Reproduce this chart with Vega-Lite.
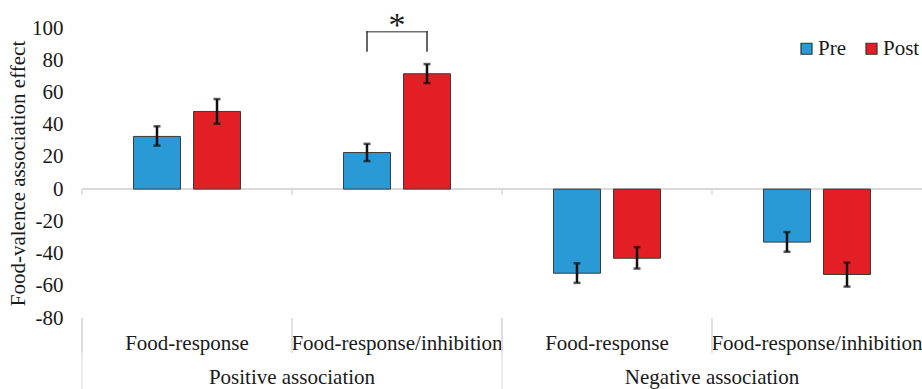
{
  "$schema": "https://vega.github.io/schema/vega-lite/v6.json",
  "width": 840,
  "height": 290,
  "autosize": {"type": "none"},
  "padding": {"left": 82, "top": 28, "right": 0, "bottom": 71},
  "background": "white",
  "config": {
    "view": {"stroke": null},
    "font": "Liberation Serif",
    "text": {"font": "Liberation Serif"}
  },
  "datasets": {
    "bars": [
      {"grp": "Positive association", "cat": "Positive|Food-response", "time": "Pre", "value": 32.7, "lo": 27.0, "hi": 39.0},
      {"grp": "Positive association", "cat": "Positive|Food-response", "time": "Post", "value": 48.2, "lo": 40.6, "hi": 55.9},
      {"grp": "Positive association", "cat": "Positive|Food-response/inhibition", "time": "Pre", "value": 22.7, "lo": 17.4, "hi": 28.1},
      {"grp": "Positive association", "cat": "Positive|Food-response/inhibition", "time": "Post", "value": 71.6, "lo": 65.8, "hi": 77.6},
      {"grp": "Negative association", "cat": "Negative|Food-response", "time": "Pre", "value": -52.2, "lo": -58.2, "hi": -46.0},
      {"grp": "Negative association", "cat": "Negative|Food-response", "time": "Post", "value": -42.9, "lo": -49.3, "hi": -36.0},
      {"grp": "Negative association", "cat": "Negative|Food-response/inhibition", "time": "Pre", "value": -32.9, "lo": -38.9, "hi": -26.7},
      {"grp": "Negative association", "cat": "Negative|Food-response/inhibition", "time": "Post", "value": -53.0, "lo": -60.5, "hi": -45.6}
    ],
    "groups": [
      {"grp": "Positive association", "first": "Positive|Food-response", "mid": "Positive|Food-response/inhibition"},
      {"grp": "Negative association", "first": "Negative|Food-response", "mid": "Negative|Food-response/inhibition"}
    ]
  },
  "data": {"name": "bars"},
  "encoding": {
    "x": {
      "field": "cat",
      "type": "nominal",
      "scale": {
        "domain": ["Positive|Food-response", "Positive|Food-response/inhibition", "Negative|Food-response", "Negative|Food-response/inhibition"],
        "paddingInner": 0,
        "paddingOuter": 0
      },
      "axis": {
        "title": null,
        "labelExpr": "split(datum.label, '|')[1]",
        "labelAngle": 0,
        "labelLimit": 0,
        "domain": false,
        "ticks": false,
        "labelPadding": 14,
        "labelFont": "Liberation Serif",
        "labelFontSize": 21,
        "labelColor": "#1a1a1a",
        "labelBaseline": "top"
      }
    },
    "y": {
      "type": "quantitative",
      "scale": {"domain": [-80, 100], "nice": false, "zero": false},
      "axis": {
        "title": "Food-valence association effect",
        "values": [-80, -60, -40, -20, 0, 20, 40, 60, 80, 100],
        "tickCount": 10,
        "labelExpr": "(datum.value < 0 ? '-' : '') + abs(datum.value)",
        "labelOverlap": false,
        "labelBound": false,
        "grid": false, "domain": false, "ticks": false,
        "labelPadding": 19,
        "labelFont": "Liberation Serif", "labelFontSize": 21, "labelColor": "#1a1a1a",
        "titleFont": "Liberation Serif", "titleFontSize": 21, "titleFontWeight": "normal", "titleColor": "#1a1a1a",
        "titlePadding": 3
      }
    }
  },
  "layer": [
    {
      "mark": {"type": "rule", "color": "#d9d9d9", "strokeWidth": 1},
      "encoding": {"x": null, "y": {"datum": 0, "type": "quantitative"}}
    },
    {
      "mark": {"type": "rule", "color": "#d9d9d9", "strokeWidth": 1},
      "encoding": {"x": {"field": "cat", "type": "nominal", "bandPosition": 0}, "y": {"datum": 0}, "y2": {"datum": -3.5}}
    },
    {
      "mark": {"type": "rule", "color": "#d9d9d9", "strokeWidth": 1},
      "encoding": {"x": {"field": "cat", "type": "nominal", "bandPosition": 0}, "y": {"datum": -80}, "y2": {"datum": -101.7}}
    },
    {
      "data": {"name": "groups"},
      "mark": {"type": "rule", "color": "#d9d9d9", "strokeWidth": 1},
      "encoding": {"x": {"field": "first", "type": "nominal", "bandPosition": 0}, "y": {"datum": -80}, "y2": {"datum": -125}}
    },
    {
      "data": {"name": "groups"},
      "mark": {"type": "text", "fontSize": 21, "color": "#1a1a1a", "baseline": "middle", "dy": 0},
      "encoding": {"x": {"field": "mid", "type": "nominal", "bandPosition": 0}, "y": {"datum": -117.5}, "text": {"field": "grp"}}
    },
    {
      "mark": {"type": "bar", "stroke": "#3a3a3a", "strokeWidth": 1},
      "encoding": {
        "xOffset": {"field": "time", "type": "nominal", "sort": ["Pre", "Post"], "scale": {"paddingInner": 0.2167, "paddingOuter": 0.858}},
        "y": {"field": "value", "type": "quantitative"},
        "y2": {"datum": 0},
        "color": {
          "field": "time", "type": "nominal", "sort": ["Pre", "Post"],
          "scale": {"domain": ["Pre", "Post"], "range": ["#2a9ad7", "#e31f25"]},
          "legend": {
            "title": null, "orient": "none", "direction": "horizontal",
            "legendX": 714, "legendY": 10, "padding": 0,
            "symbolType": "square", "symbolSize": 121, "symbolStrokeColor": "#333333", "symbolStrokeWidth": 1.2,
            "labelFont": "Liberation Serif", "labelFontSize": 21, "labelColor": "#1a1a1a",
            "labelOffset": 1, "columnPadding": 15
          }
        }
      }
    },
    {
      "mark": {"type": "rule", "color": "#111111", "strokeWidth": 2.5},
      "encoding": {
        "xOffset": {"field": "time", "type": "nominal", "sort": ["Pre", "Post"]},
        "y": {"field": "lo", "type": "quantitative"},
        "y2": {"field": "hi"}
      }
    },
    {
      "mark": {"type": "tick", "color": "#111111", "thickness": 2.5, "size": 7},
      "encoding": {
        "xOffset": {"field": "time", "type": "nominal", "sort": ["Pre", "Post"]},
        "y": {"field": "lo", "type": "quantitative"}
      }
    },
    {
      "mark": {"type": "tick", "color": "#111111", "thickness": 2.5, "size": 7},
      "encoding": {
        "xOffset": {"field": "time", "type": "nominal", "sort": ["Pre", "Post"]},
        "y": {"field": "hi", "type": "quantitative"}
      }
    },
    {
      "data": {"values": [{}]},
      "mark": {"type": "tick", "color": "#333333", "thickness": 1.5, "size": 61},
      "encoding": {"x": {"datum": "Positive|Food-response/inhibition"}, "y": {"datum": 97.7}}
    },
    {
      "data": {"values": [{"time": "Pre"}, {"time": "Post"}]},
      "mark": {"type": "rule", "color": "#333333", "strokeWidth": 1.5},
      "encoding": {
        "x": {"datum": "Positive|Food-response/inhibition"},
        "xOffset": {"field": "time", "type": "nominal", "sort": ["Pre", "Post"]},
        "y": {"datum": 98.1},
        "y2": {"datum": 85.3}
      }
    },
    {
      "data": {"values": [{"label": "*"}]},
      "mark": {"type": "text", "fontSize": 34, "color": "#1a1a1a", "baseline": "alphabetic", "dy": 4},
      "encoding": {"x": {"datum": "Positive|Food-response/inhibition"}, "y": {"datum": 97.7}, "text": {"field": "label"}}
    }
  ]
}
